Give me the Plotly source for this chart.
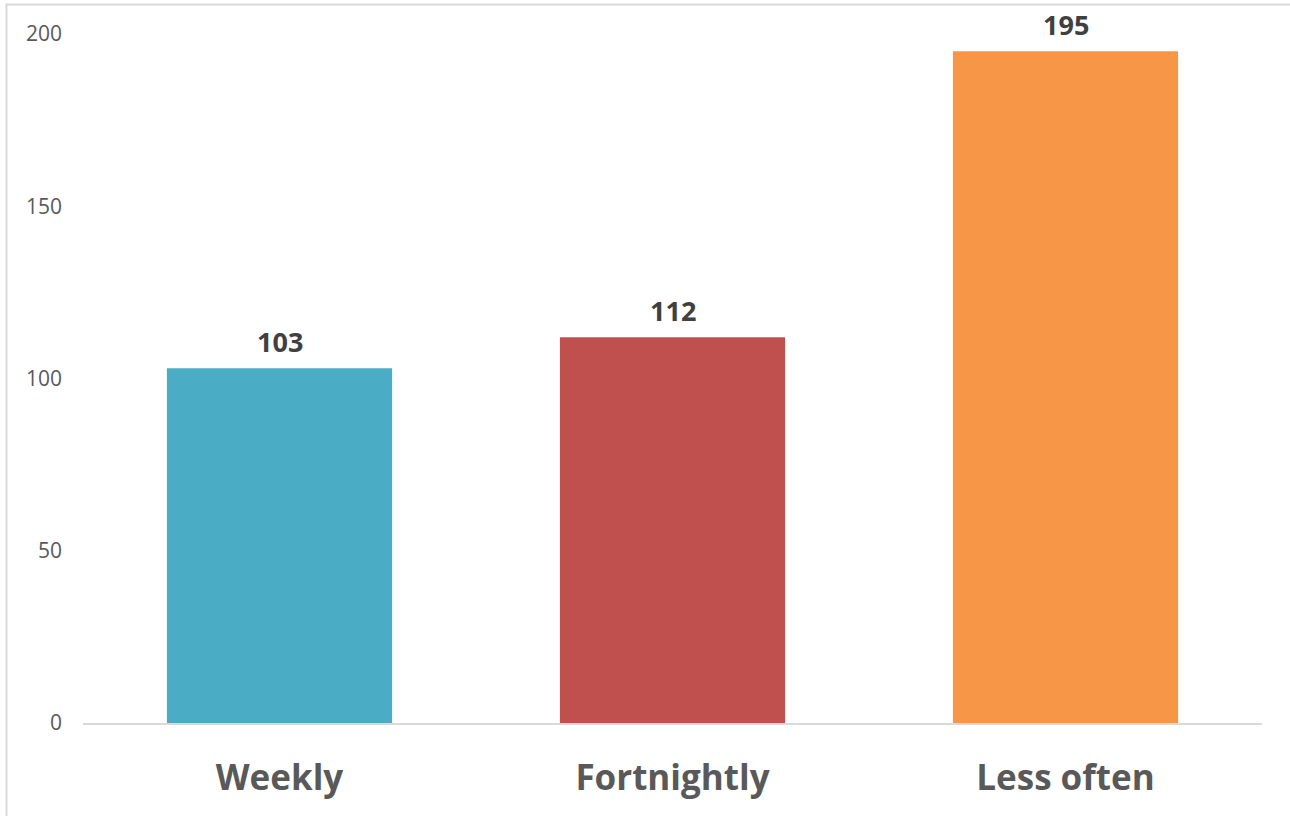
import plotly.graph_objects as go

categories = ["Weekly", "Fortnightly", "Less often"]
values = [103, 112, 195]
colors = ["#4BACC6", "#C0504D", "#F79646"]
y_ticks = [0, 50, 100, 150, 200]

W, H = 1290, 816
L, R, T, B = 83, 28, 34, 93
pw, ph = W - L - R, H - T - B

fig = go.Figure()
fig.add_trace(go.Bar(
    x=categories, y=values, marker=dict(color=colors, line=dict(width=0)),
    hoverinfo="x+y", showlegend=False,
))
for c, v in zip(categories, values):
    fig.add_annotation(
        x=c, y=v, text=f"<b>{v}</b>", showarrow=False, yanchor="bottom",
        yshift=6, font=dict(family="Open Sans", size=27, color="#404040"),
    )

def px(x):
    return (x - L) / pw

def py(y):
    return (H - B - y) / ph

fig.add_shape(type="rect", xref="paper", yref="paper",
              x0=px(6.5), x1=px(1300), y0=py(830), y1=py(4.5),
              line=dict(color="#D9D9D9", width=2), fillcolor="rgba(0,0,0,0)", layer="below")

fig.update_layout(
    width=W, height=H,
    margin=dict(l=L, r=R, t=T, b=B, pad=0),
    paper_bgcolor="white", plot_bgcolor="white",
    bargap=0.427,
    font=dict(family="Open Sans", color="#595959"),
    xaxis=dict(
        showgrid=False, showline=True, linecolor="#D9D9D9", linewidth=1.5,
        ticks="", tickfont=dict(family="Open Sans", size=35, color="#595959"),
        tickprefix="<b>", ticksuffix="</b>", ticklabelstandoff=23,
    ),
    yaxis=dict(
        range=[0, 200], tickvals=y_ticks, showgrid=False, zeroline=False,
        showline=False, ticks="", tickfont=dict(family="Open Sans", size=21, color="#595959"),
        ticklabelstandoff=20,
    ),
)

fig.write_html("out.html", config={"displayModeBar": False},
               post_script="document.body.style.margin='0';")
